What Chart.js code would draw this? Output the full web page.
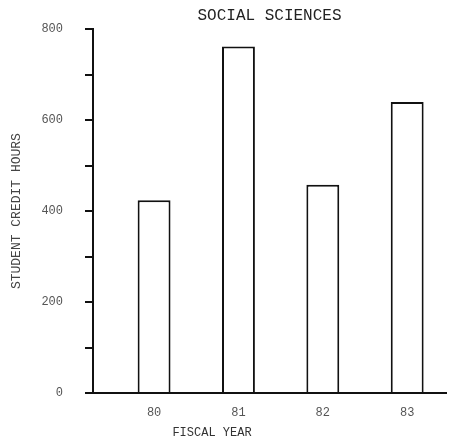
<!DOCTYPE html>
<html>
<head>
<meta charset="utf-8">
<script src="https://cdn.jsdelivr.net/npm/chart.js@4/dist/chart.umd.min.js"></script>
<style>
  html, body { margin: 0; padding: 0; background: #fff; }
  #wrap { width: 458px; height: 444px; }
</style>
</head>
<body>
<div id="wrap"><canvas id="chart" width="458" height="444"></canvas></div>
<script>
// fiscal years along the bottom, student credit hours per year
var years = ["80", "81", "82", "83"];
var hours = [424, 762, 458, 640];
var yTicks = [0, 200, 400, 600, 800];

var mono = "'Liberation Mono', 'DejaVu Sans Mono', monospace";

var xTitle = {
  id: "xTitle",
  afterDraw: function (chart) {
    var ctx = chart.ctx;
    ctx.save();
    ctx.font = "12px " + mono;
    ctx.fillStyle = "#333";
    ctx.textAlign = "center";
    ctx.textBaseline = "middle";
    ctx.fillText("FISCAL YEAR", 212, 433);
    ctx.restore();
  }
};

var ctx = document.getElementById("chart");
var myChart = new Chart(ctx, {
  type: "bar",
  data: {
    datasets: [
      {
        data: years.map(function (y, i) { return { x: i, y: hours[i] }; }),
        backgroundColor: "#fff",
        borderColor: "#111",
        borderWidth: 2,
        barPercentage: 0.39,
        categoryPercentage: 1
      }
    ]
  },
  options: {
    responsive: false,
    animation: false,
    layout: { padding: { right: 12 } },
    plugins: {
      legend: { display: false },
      tooltip: { enabled: false },
      title: {
        display: true,
        text: "SOCIAL SCIENCES",
        fullSize: false,
        color: "#222",
        font: { family: mono, size: 16, weight: "normal" },
        padding: { top: 5, bottom: 4 }
      }
    },
    scales: {
      x: {
        type: "linear",
        offset: false,
        min: -0.724,
        max: 3.46,
        afterFit: function (s) { s.height = 51; },
        afterBuildTicks: function (s) {
          s.ticks = years.map(function (y, i) { return { value: i }; });
        },
        grid: { display: false },
        border: { display: true, color: "#111", width: 2 },
        ticks: {
          color: "#555",
          font: { family: mono, size: 12 },
          padding: 5,
          callback: function (v) { return years[v]; }
        }
      },
      y: {
        min: 0,
        max: 800,
        afterFit: function (s) { s.width = 93; },
        grid: {
          drawOnChartArea: false,
          drawTicks: true,
          tickLength: 8,
          color: "#111",
          lineWidth: 2
        },
        border: { display: true, color: "#111", width: 2 },
        ticks: {
          stepSize: 100,
          color: "#555",
          font: { family: mono, size: 12 },
          padding: 22,
          callback: function (v) { return yTicks.indexOf(v) >= 0 ? String(v) : ""; }
        },
        title: {
          display: true,
          text: "STUDENT CREDIT HOURS",
          color: "#444",
          font: { family: mono, size: 13 },
          padding: { top: 9, bottom: 0 }
        }
      }
    }
  },
  plugins: [xTitle]
});
</script>
</body>
</html>
